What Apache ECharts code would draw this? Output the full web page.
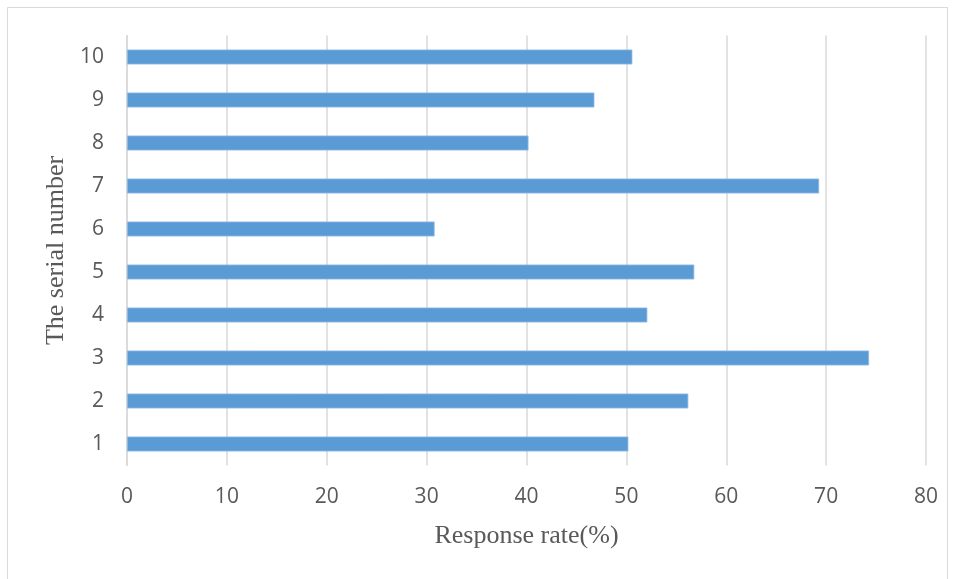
<!DOCTYPE html>
<html>
<head>
<meta charset="utf-8">
<script src="https://cdn.jsdelivr.net/npm/echarts@6/dist/echarts.min.js"></script>
<style>
  html, body { margin: 0; padding: 0; background: #fff; }
  #chart { width: 955px; height: 579px; }
</style>
</head>
<body>
<div id="chart"></div>
<script>
// Serial numbers (bottom to top) and their response rates in percent
const serialNumbers = ['1', '2', '3', '4', '5', '6', '7', '8', '9', '10'];
const responseRates = [50.2, 56.2, 74.3, 52.1, 56.8, 30.8, 69.3, 40.2, 46.8, 50.6];
const xTicks = { min: 0, max: 80, interval: 10 };

const chart = echarts.init(document.getElementById('chart'), null, { renderer: 'canvas' });

chart.setOption({
  animation: false,
  backgroundColor: '#ffffff',
  graphic: [{
    type: 'rect',
    shape: { x: 7.5, y: 7.5, width: 940, height: 600 },
    style: { fill: 'none', stroke: '#d9d9d9', lineWidth: 1 },
    silent: true
  }],
  grid: { left: 127, right: 29, top: 35.5, bottom: 113.5, containLabel: false },
  xAxis: {
    type: 'value',
    min: xTicks.min,
    max: xTicks.max,
    interval: xTicks.interval,
    name: 'Response rate(%)',
    nameLocation: 'middle',
    nameGap: 58,
    nameTextStyle: { fontFamily: 'Liberation Serif', fontSize: 26, color: '#595959' },
    axisLine: { show: false },
    axisTick: { show: false },
    axisLabel: { margin: 21, fontFamily: 'Open Sans', fontSize: 21, color: '#595959' },
    splitLine: { show: true, lineStyle: { color: '#d9d9d9', width: 1.5 } }
  },
  yAxis: {
    type: 'category',
    data: serialNumbers,
    name: 'The serial number',
    nameLocation: 'middle',
    nameGap: 56,
    nameRotate: 90,
    nameTextStyle: { fontFamily: 'Liberation Serif', fontSize: 26, color: '#595959' },
    axisLine: { show: true, lineStyle: { color: '#d9d9d9', width: 1.5 } },
    axisTick: { show: false },
    axisLabel: { margin: 23, fontFamily: 'Open Sans', fontSize: 21, color: '#595959' },
    splitLine: { show: false }
  },
  series: [{
    type: 'bar',
    data: responseRates,
    barWidth: 15,
    itemStyle: { color: '#5b9bd5', borderColor: '#8fbbe3', borderWidth: 0.8 }
  }]
});
</script>
</body>
</html>
